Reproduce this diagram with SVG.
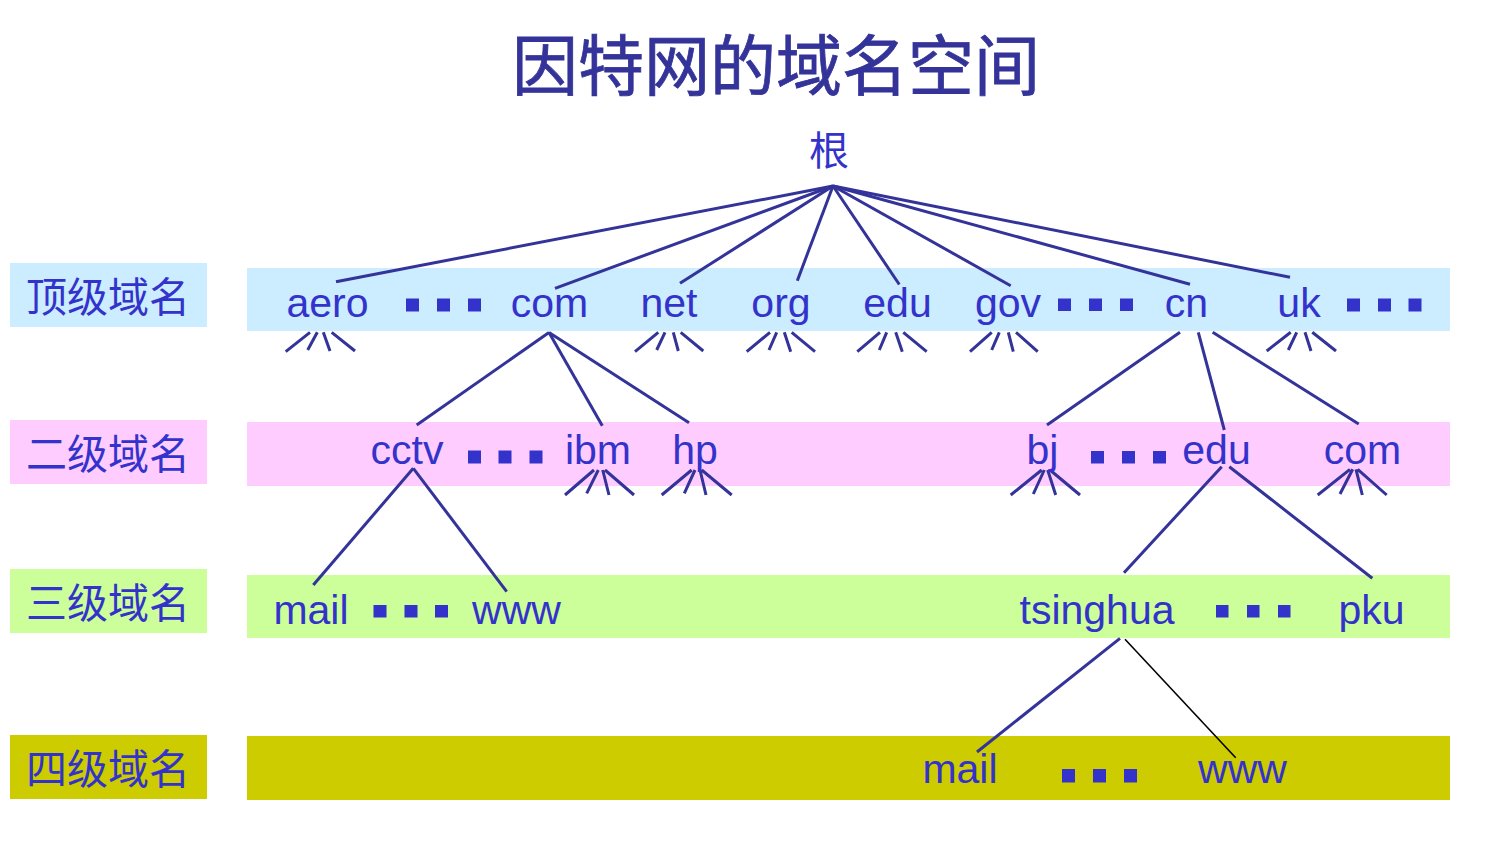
<svg xmlns="http://www.w3.org/2000/svg" width="1485" height="860" viewBox="0 0 1485 860">
<style>
.t{font-family:"Liberation Sans",Arial,sans-serif;font-size:41px;fill:#3333CC;text-anchor:middle}
.c{font-family:"Noto Sans CJK SC",sans-serif;fill:#3333CC;text-anchor:middle}
.sq{fill:#3333CC}
.ln{stroke:#333399;stroke-width:3;fill:none;stroke-linecap:butt}
.b1{fill:#CCECFF}.b2{fill:#FFCCFF}.b3{fill:#CCFF99}.b4{fill:#CCCC00}
</style>
<rect width="1485" height="860" fill="#FFFFFF"/>
<text x="776" y="90" class="c" style="font-size:66px;fill:#333399;stroke:#333399;stroke-width:0.8">因特网的域名空间</text>
<g id="bands">
<rect class="b1" x="10" y="263" width="197" height="64"/>
<rect class="b2" x="10" y="420" width="197" height="64"/>
<rect class="b3" x="10" y="569" width="197" height="64"/>
<rect class="b4" x="10" y="735" width="197" height="64"/>
<rect class="b1" x="247" y="268" width="1203" height="63"/>
<rect class="b2" x="247" y="422" width="1203" height="64"/>
<rect class="b3" x="247" y="575" width="1203" height="63"/>
<rect class="b4" x="247" y="736" width="1203" height="64"/>
<text x="108" y="312" class="c" style="font-size:41px">顶级域名</text>
<text x="108" y="469" class="c" style="font-size:41px">二级域名</text>
<text x="108" y="618" class="c" style="font-size:41px">三级域名</text>
<text x="108" y="784" class="c" style="font-size:41px">四级域名</text>
</g>
<g id="connectors" class="ln">
<line x1="833" y1="186" x2="336" y2="281.7"/>
<line x1="833" y1="186" x2="555" y2="288.3"/>
<line x1="833" y1="186" x2="680" y2="283.3"/>
<line x1="833" y1="186" x2="797.3" y2="280.7"/>
<line x1="833" y1="186" x2="899.3" y2="284.5"/>
<line x1="833" y1="186" x2="1010.7" y2="285.7"/>
<line x1="833" y1="186" x2="1190" y2="284.3"/>
<line x1="833" y1="186" x2="1290" y2="277.3"/>
<line x1="549" y1="332.5" x2="416.7" y2="425"/>
<line x1="549" y1="332.5" x2="602.3" y2="425.7"/>
<line x1="549" y1="332.5" x2="689" y2="422.7"/>
<line x1="1180" y1="332.3" x2="1047" y2="425"/>
<line x1="1198.3" y1="332.3" x2="1224.3" y2="430"/>
<line x1="1212.7" y1="332.3" x2="1358.7" y2="424"/>
<line x1="413.3" y1="468.3" x2="313.3" y2="585"/>
<line x1="413.3" y1="468.3" x2="506.7" y2="591.7"/>
<line x1="1221.7" y1="466.7" x2="1124" y2="572.7"/>
<line x1="1229.3" y1="466.7" x2="1372.3" y2="578.3"/>
<line x1="1120" y1="638.3" x2="977" y2="752"/>
<line x1="1125" y1="639.3" x2="1235.7" y2="757.7" style="stroke:#000000;stroke-width:1.6"/>
<path d="M285.7 351.7L310 332.3M307.7 350L317.3 332.3M330 351L323.3 332.3M355 351L331.7 332.3"/>
<path d="M635 351.7L658.3 332.3M656.7 350L665 332.3M678.3 351L673.3 332.3M703.3 351L680.7 332.3"/>
<path d="M746.7 351.7L770 332.3M769 350L776.7 332.3M790.7 351.7L784.3 332.3M815 351.7L791.7 332.3"/>
<path d="M857.3 351.7L880 332.3M879.3 350L886.7 332.3M902.3 351.7L895.7 332.3M926.7 351.7L903.3 332.3"/>
<path d="M970 351.7L991.7 332.3M991.7 350L999.3 332.3M1013.3 351.7L1008.3 332.3M1037.7 351.7L1016 332.3"/>
<path d="M1266.7 351L1290.7 332.3M1288.3 350L1296.7 332.3M1311 351L1305 332.3M1336 351L1312.3 332.3"/>
<path d="M565 495L594 470M586.7 493.3L598.3 470M609 495L602.7 470M634 495L605 470"/>
<path d="M661.7 495L691.7 470M684.3 493.3L695 470M706 495L700 470M731.7 495L701.7 470"/>
<path d="M1010.7 495L1041.7 470M1033.3 494L1044.3 470M1055.7 495L1047.7 470M1080 495L1050 470"/>
<path d="M1317.7 495L1350 469.3M1340 494L1352.7 469.3M1362.3 495L1356 469.3M1386.7 495L1357.7 469.3"/>
</g>
<g id="root"><text x="829" y="165" class="c" style="font-size:40px">根</text></g>
<g id="n-aero"><text x="327.5" y="317" class="t">aero</text></g>
<g id="dots-1a" class="sq"><rect x="406" y="298.5" width="13" height="13"/><rect x="437" y="298.5" width="13" height="13"/><rect x="468" y="298.5" width="13" height="13"/></g>
<g id="n-com"><text x="549.5" y="317" class="t">com</text></g>
<g id="n-net"><text x="669" y="317" class="t">net</text></g>
<g id="n-org"><text x="781" y="317" class="t">org</text></g>
<g id="n-edu"><text x="897.5" y="317" class="t">edu</text></g>
<g id="n-gov"><text x="1008" y="317" class="t">gov</text></g>
<g id="dots-1b" class="sq"><rect x="1058" y="298.5" width="13" height="12.5"/><rect x="1089" y="298.5" width="13" height="12.5"/><rect x="1120" y="298.5" width="13" height="12.5"/></g>
<g id="n-cn"><text x="1186.5" y="317" class="t">cn</text></g>
<g id="n-uk"><text x="1299" y="317" class="t">uk</text></g>
<g id="dots-1c" class="sq"><rect x="1347" y="298.5" width="13" height="13"/><rect x="1378" y="298.5" width="13" height="13"/><rect x="1408.5" y="298.5" width="13" height="13"/></g>
<g id="n-cctv"><text x="407" y="464" class="t">cctv</text></g>
<g id="dots-2a" class="sq"><rect x="468" y="450.5" width="13" height="13"/><rect x="498.5" y="450.5" width="13" height="13"/><rect x="529.5" y="450.5" width="13" height="13"/></g>
<g id="n-ibm"><text x="598" y="464" class="t">ibm</text></g>
<g id="n-hp"><text x="695" y="464" class="t">hp</text></g>
<g id="n-bj"><text x="1042.5" y="464" class="t">bj</text></g>
<g id="dots-2b" class="sq"><rect x="1091" y="451" width="13" height="12.5"/><rect x="1122" y="451" width="13" height="12.5"/><rect x="1153" y="451" width="13" height="12.5"/></g>
<g id="n-edu2"><text x="1216.5" y="464" class="t">edu</text></g>
<g id="n-com2"><text x="1362.5" y="464" class="t">com</text></g>
<g id="n-mail"><text x="311" y="623.5" class="t">mail</text></g>
<g id="dots-3a" class="sq"><rect x="373.5" y="605" width="13" height="12.5"/><rect x="404.5" y="605" width="13" height="12.5"/><rect x="435" y="605" width="13" height="12.5"/></g>
<g id="n-www"><text x="516.5" y="623.5" class="t">www</text></g>
<g id="n-tsinghua"><text x="1097" y="623.5" class="t">tsinghua</text></g>
<g id="dots-3b" class="sq"><rect x="1216" y="605" width="12.5" height="12.5"/><rect x="1247" y="605" width="12.5" height="12.5"/><rect x="1278" y="605" width="12.5" height="12.5"/></g>
<g id="n-pku"><text x="1371.5" y="623.5" class="t">pku</text></g>
<g id="n-mail2"><text x="960" y="783" class="t">mail</text></g>
<g id="dots-4" class="sq"><rect x="1062" y="769" width="13" height="13.5"/><rect x="1093" y="769" width="13" height="13.5"/><rect x="1124" y="769" width="13" height="13.5"/></g>
<g id="n-www2"><text x="1242.5" y="783" class="t">www</text></g>
</svg>
